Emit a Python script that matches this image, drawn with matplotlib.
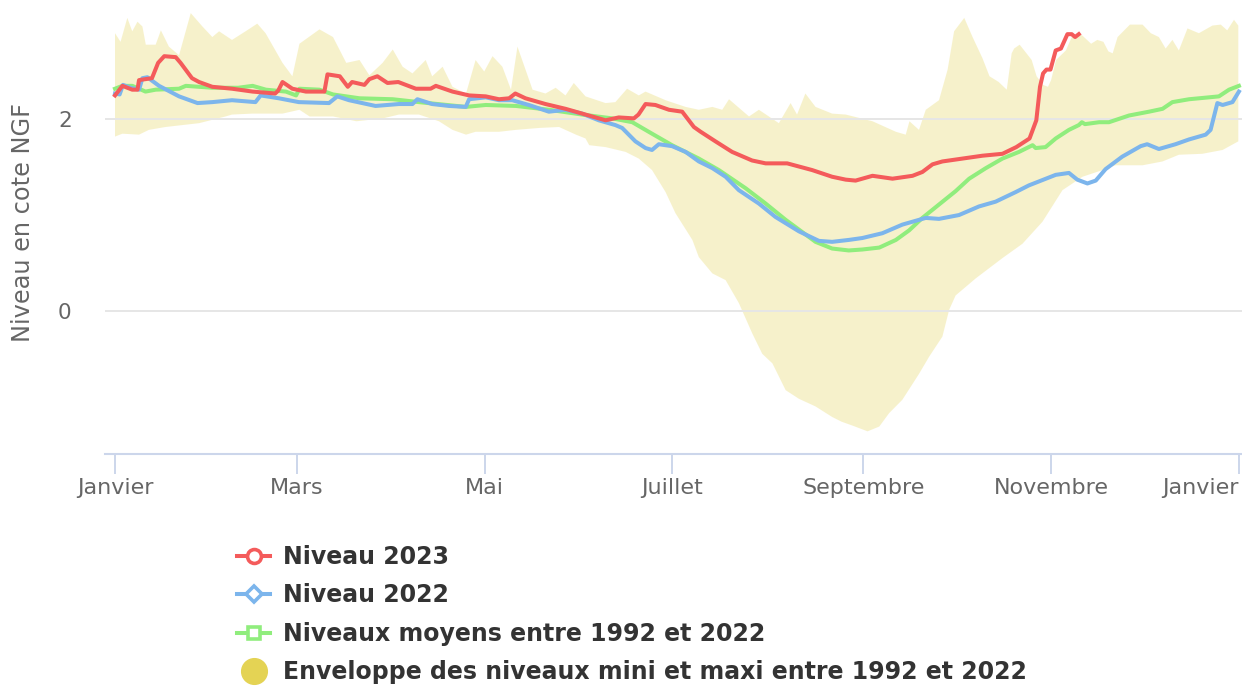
import matplotlib
matplotlib.use("Agg")
import matplotlib.pyplot as plt
from matplotlib.lines import Line2D
import numpy as np

plt.rcParams['font.family'] = ['DejaVu Sans']

# ---------------- data (day of year, level NGF) ----------------
red_days = [0, 2.4, 5.6, 7.3, 7.8, 12, 14, 16, 19.7, 21.3, 25, 27.3, 31.6, 38, 44.7, 52, 53, 54.4,
            57.6, 62, 68, 69, 73, 75.6, 77, 81, 82.6, 85.2, 88.5, 92, 97.7, 102.5, 104.2, 109.6,
            115, 120.4, 124.7, 128, 130, 133.3, 139.8, 146.3, 152.8, 159.3, 163.6, 168.5, 170,
            172.3, 175.5, 179.9, 184.2, 188, 190.2, 195, 200.4, 206.9, 211.3, 218.3, 226.4, 232.9,
            237.3, 240.5, 246, 252.5, 259, 262.2, 265.5, 268.7, 275.2, 281.7, 288.2, 292.7, 297,
            299.2, 300.4, 301.4, 302.5, 303.8, 305.5, 307.2, 309.3, 310.7, 311.8, 313]
red_vals = [2.25, 2.35, 2.31, 2.31, 2.41, 2.43, 2.59, 2.66, 2.65, 2.59, 2.43, 2.39, 2.34, 2.32, 2.29,
            2.27, 2.30, 2.39, 2.32, 2.29, 2.29, 2.47, 2.45, 2.34, 2.39, 2.36, 2.42, 2.45, 2.38, 2.39,
            2.32, 2.32, 2.35, 2.29, 2.25, 2.24, 2.21, 2.22, 2.27, 2.22, 2.16, 2.11, 2.05, 1.99, 2.02,
            2.01, 2.05, 2.16, 2.15, 2.10, 2.08, 1.92, 1.87, 1.77, 1.66, 1.57, 1.54, 1.54, 1.47, 1.40,
            1.37, 1.36, 1.41, 1.38, 1.41, 1.45, 1.53, 1.56, 1.59, 1.62, 1.64, 1.71, 1.80,
            1.99, 2.34, 2.48, 2.52, 2.52, 2.72, 2.74, 2.89, 2.89, 2.86, 2.89]

blue_days = [0, 1.5, 2.6, 5, 7.8, 8.9, 10.5, 14.3, 20.8, 26.8, 31.6, 38, 45.6, 47.3, 53.2, 59.7,
             69.5, 72.2, 76, 84.6, 92.2, 96.6, 98.2, 103, 108.5, 113.9, 115, 120.4, 124.7, 129,
             134.4, 140.9, 146.3, 151.7, 157.1, 162.5, 164.7, 169, 172.3, 174.4, 176.6, 180.9,
             185.3, 189.6, 194, 198.3, 202.6, 209.1, 214.5, 222.1, 228.6, 232.9, 238.3, 242.7,
             249.2, 255.7, 263.3, 267.6, 274.1, 280.6, 286, 292.5, 296.8, 305.5, 309.8, 312.5,
             315.8, 318.5, 321.7, 327.1, 333.1, 335.2, 339, 344.4, 348.8, 354.2, 355.8, 358,
             359.7, 362.9, 365]
blue_vals = [2.27, 2.26, 2.36, 2.33, 2.31, 2.43, 2.44, 2.35, 2.24, 2.17, 2.18, 2.20, 2.18, 2.25,
             2.22, 2.18, 2.17, 2.24, 2.20, 2.14, 2.16, 2.16, 2.21, 2.16, 2.14, 2.13, 2.21, 2.23,
             2.20, 2.20, 2.15, 2.08, 2.10, 2.06, 1.99, 1.94, 1.91, 1.77, 1.70, 1.68, 1.74, 1.72,
             1.66, 1.56, 1.49, 1.40, 1.26, 1.12, 0.98, 0.83, 0.73, 0.72, 0.74, 0.76, 0.81, 0.90,
             0.97, 0.96, 1.00, 1.09, 1.14, 1.24, 1.31, 1.42, 1.44, 1.37, 1.33, 1.36, 1.48, 1.61,
             1.72, 1.74, 1.69, 1.74, 1.79, 1.84, 1.89, 2.17, 2.15, 2.18, 2.29]

green_days = [0, 2.4, 5.6, 7.8, 9.9, 13.2, 20.8, 23, 31.6, 40, 44.7, 49, 55.5, 58.8, 59.9, 66.4,
              70.8, 79.4, 90.2, 98.7, 113.9, 120.4, 130.2, 141, 151.7, 161.5, 168, 174.4, 180.9,
              189.6, 196.1, 204.8, 211.3, 217.8, 227.5, 232.9, 238.3, 242.7, 248.2, 253.6, 257.9,
              262.2, 267.6, 273, 277.4, 282.8, 288.2, 293.6, 298, 299, 302.2, 305.5, 309.8, 313,
              314, 315, 319.6, 322.8, 329.3, 335.8, 340.2, 343.4, 348.8, 355.3, 358.5, 361.8, 365]
green_vals = [2.32, 2.35, 2.35, 2.32, 2.29, 2.31, 2.32, 2.35, 2.33, 2.33, 2.35, 2.31, 2.29, 2.25,
              2.32, 2.31, 2.26, 2.22, 2.21, 2.18, 2.13, 2.15, 2.14, 2.10, 2.05, 2.01, 1.97, 1.85,
              1.73, 1.59, 1.47, 1.28, 1.12, 0.95, 0.72, 0.65, 0.63, 0.64, 0.66, 0.74, 0.84, 0.97,
              1.11, 1.25, 1.38, 1.49, 1.59, 1.66, 1.73, 1.70, 1.71, 1.80, 1.89, 1.94, 1.97, 1.95,
              1.97, 1.97, 2.04, 2.08, 2.11, 2.18, 2.21, 2.23, 2.24, 2.31, 2.35]

env_max_days = [0, 1.8, 4, 5.6, 7.3, 8.9, 10, 13.2, 14.9, 17.5, 20.8, 24.6, 28.4, 31.6, 33.8, 38,
                42.4, 46.2, 48.9, 54.4, 57.6, 59.9, 66.4, 70.8, 75.1, 79.4, 82.6, 86.9, 90.2, 93.4,
                96.6, 100.9, 103, 106.4, 109.6, 114, 117.1, 119.9, 122.6, 125.8, 128.6, 130.7,
                135.6, 139.8, 143.1, 146.3, 149, 152.8, 159.3, 162.5, 166.3, 170.1, 172.3, 178.8,
                185.3, 189.6, 194, 197.2, 199.4, 205.9, 209.1, 215.6, 219.4, 221.5, 224.2, 227.5,
                232.9, 237.3, 246, 253.6, 256.8, 258, 261.1, 263.3, 267.6, 270.4, 272.5, 275.8,
                278.5, 281.7, 284, 287, 289.6, 291.2, 292, 293.8, 296, 297.7, 299.3, 301.4, 303,
                304, 305.6, 308.8, 311, 314, 317, 319, 321, 322.6, 324, 325.6, 329.6, 333.7, 336.4,
                339, 341.2, 343.4, 345.5, 348.3, 352, 356.4, 359.1, 361.2, 363.4, 364.8]
env_max_vals = [2.90, 2.81, 3.06, 2.92, 3.02, 2.97, 2.78, 2.78, 2.93, 2.76, 2.67, 3.11, 2.97, 2.86,
                2.92, 2.83, 2.92, 3.00, 2.90, 2.59, 2.45, 2.79, 2.94, 2.86, 2.59, 2.62, 2.46, 2.59,
                2.73, 2.55, 2.48, 2.62, 2.45, 2.55, 2.34, 2.27, 2.62, 2.50, 2.66, 2.55, 2.31, 2.76,
                2.31, 2.27, 2.33, 2.25, 2.38, 2.24, 2.17, 2.18, 2.32, 2.25, 2.29, 2.20, 2.13, 2.10,
                2.13, 2.10, 2.21, 2.03, 2.10, 1.96, 2.17, 2.05, 2.27, 2.13, 2.06, 2.05, 1.98, 1.87,
                1.84, 1.98, 1.89, 2.10, 2.20, 2.52, 2.92, 3.06, 2.86, 2.64, 2.45, 2.39, 2.31, 2.69,
                2.74, 2.78, 2.69, 2.62, 2.45, 2.36, 2.34, 2.41, 2.62, 2.72, 2.88, 2.88, 2.79, 2.83,
                2.81, 2.71, 2.69, 2.86, 2.99, 2.99, 2.90, 2.86, 2.74, 2.83, 2.72, 2.95, 2.90, 2.98,
                2.99, 2.93, 3.04, 2.98]

env_min_days = [0, 2.4, 7.8, 11, 16.4, 27.3, 35.9, 38, 44.7, 54.4, 59.9, 63.2, 70.8, 78.4, 87, 92.2,
                98.7, 105.2, 109.6, 114, 117.1, 124.7, 130.2, 137.7, 144.2, 149.7, 152.8, 154,
                159.3, 165.8, 170.1, 174.4, 178.8, 182, 187.5, 189.6, 194, 198.3, 202.6, 207,
                210.2, 213.5, 217.8, 222.1, 227.5, 232.9, 236, 239.5, 244.4, 248.2, 251.4, 255.7,
                261.1, 264.4, 268.7, 270.9, 273, 279.6, 288.2, 294.7, 301.2, 307.7, 314.2, 320.7,
                325, 333.7, 340.2, 345.5, 353.1, 359.7, 364.8]
env_min_vals = [1.82, 1.85, 1.84, 1.89, 1.92, 1.96, 2.03, 2.05, 2.06, 2.06, 2.10, 2.03, 2.03, 1.98,
                2.01, 2.05, 2.05, 1.98, 1.89, 1.84, 1.87, 1.87, 1.89, 1.91, 1.92, 1.84, 1.80, 1.73,
                1.71, 1.66, 1.59, 1.47, 1.24, 1.02, 0.74, 0.56, 0.39, 0.32, 0.08, -0.24, -0.45,
                -0.55, -0.83, -0.92, -1.00, -1.11, -1.16, -1.20, -1.26, -1.21, -1.07, -0.93, -0.66,
                -0.48, -0.27, 0.01, 0.16, 0.34, 0.55, 0.70, 0.93, 1.26, 1.40, 1.47, 1.52, 1.52,
                1.56, 1.63, 1.64, 1.68, 1.77]

month_ticks = [0, 59, 120, 181, 243, 304, 365]
month_labels = ["Janvier", "Mars", "Mai", "Juillet", "Septembre", "Novembre", "Janvier"]
y_ticks = [0, 2]

series_labels = ["Niveau 2023", "Niveau 2022", "Niveaux moyens entre 1992 et 2022",
                 "Enveloppe des niveaux mini et maxi entre 1992 et 2022"]

# ---------------- styling ----------------
RED = "#f45b5b"
BLUE = "#7cb5ec"
GREEN = "#90ed7d"
YELLOW = "#e4d354"
W, H = 1242, 687

fig = plt.figure(figsize=(W / 100, H / 100), dpi=100)
ax_left, ax_right, ax_bottom, ax_top = 105, 1242, 454.3, 4.5
ax = fig.add_axes([ax_left / W, 1 - ax_bottom / H, (ax_right - ax_left) / W, (ax_bottom - ax_top) / H])

# envelope as polygon
env_x = list(env_max_days) + list(env_min_days[::-1])
env_y = list(env_max_vals) + list(env_min_vals[::-1])
ax.fill(env_x, env_y, color=YELLOW, alpha=0.30, lw=0, zorder=1)

ax.plot(green_days, green_vals, color=GREEN, lw=2.9, zorder=3, solid_joinstyle='round')
ax.plot(blue_days, blue_vals, color=BLUE, lw=2.9, zorder=4, solid_joinstyle='round')
ax.plot(red_days, red_vals, color=RED, lw=2.9, zorder=5, solid_joinstyle='round')

ax.set_xlim(-3.25, 366.0)
ax.set_ylim(-1.50, 3.20)

for s in ["top", "right", "left"]:
    ax.spines[s].set_visible(False)
ax.spines["bottom"].set_color("#ccd6eb")
ax.spines["bottom"].set_linewidth(1.5)

ax.set_yticks(y_ticks)
ax.set_yticklabels([str(v) for v in y_ticks])
ax.grid(axis="y", color="#e6e6e6", lw=1.4, zorder=0)
ax.tick_params(axis="y", length=0, pad=24, labelsize=15.5, labelcolor="#666666")

ax.set_xticks(month_ticks)
ax.set_xticklabels(month_labels)
ax.tick_params(axis="x", length=14.4, width=1.4, color="#ccd6eb", pad=3,
               labelsize=16, labelcolor="#666666")
xt = ax.get_xticklabels()
xt[-1].set_horizontalalignment("right")

fig.text(23 / W, 1 - 222.5 / H, "Niveau en cote NGF", rotation=90, ha="center", va="center",
         fontsize=17.3, color="#666666")

# legend
handles = [
    Line2D([], [], color=RED, lw=2.9, marker="o", markersize=10, markerfacecolor="white",
           markeredgecolor=RED, markeredgewidth=2.6),
    Line2D([], [], color=BLUE, lw=2.9, marker="D", markersize=8.5, markerfacecolor="white",
           markeredgecolor=BLUE, markeredgewidth=2.6),
    Line2D([], [], color=GREEN, lw=2.9, marker="s", markersize=9.2, markerfacecolor="white",
           markeredgecolor=GREEN, markeredgewidth=2.6),
    Line2D([], [], color="none", lw=0, marker="o", markersize=18.5, markerfacecolor=YELLOW,
           markeredgecolor=YELLOW),
]
leg = fig.legend(handles, series_labels, loc="upper left",
                 bbox_to_anchor=(237 / W, 1 - 545 / H), frameon=False,
                 prop={"weight": "bold", "size": 17}, labelcolor="#333333",
                 handlelength=1.4, handletextpad=0.55, labelspacing=0.61, borderpad=0,
                 borderaxespad=0)

fig.savefig("out.png", dpi=100)
